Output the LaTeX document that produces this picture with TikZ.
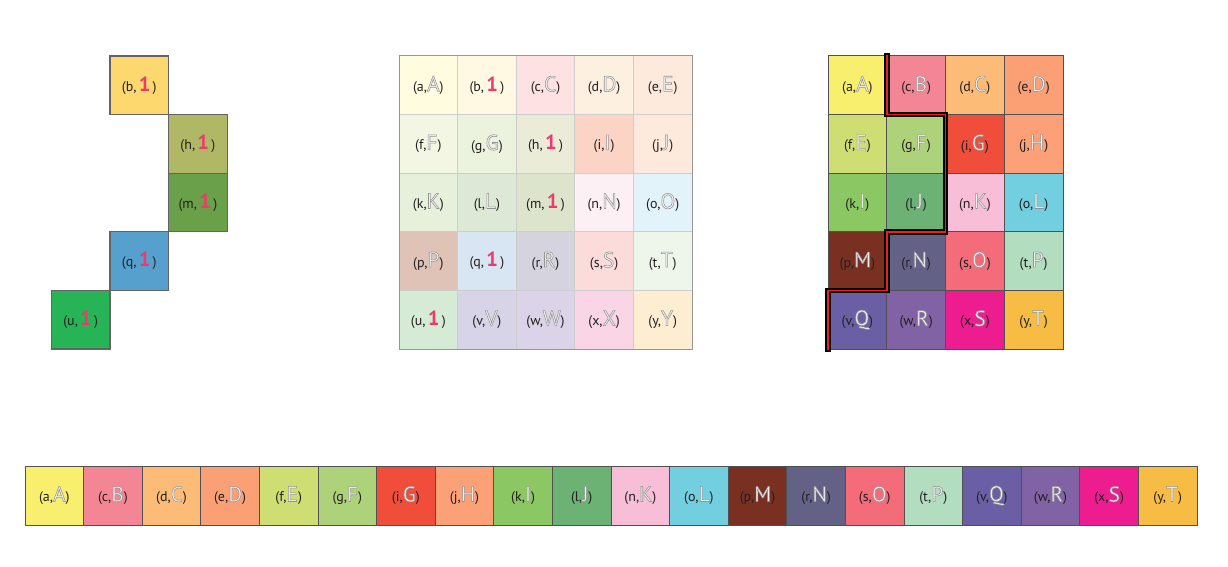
\documentclass[tikz,border=0pt]{standalone}
\usepackage{fontspec}
\setmainfont{PT Sans}
\definecolor{textdark}{HTML}{231F20}
\definecolor{pinkone}{HTML}{EC3A6D}
\definecolor{pathred}{HTML}{E8202A}
\definecolor{hollowfill}{HTML}{F2F2F2}
\newcommand\hl[1]{{\fontsize{21.5}{21.5}\selectfont\color{hollowfill}\special{pdf:literal direct 0.58 0.58 0.58 RG 0.55 w 2 Tr}#1\special{pdf:literal direct 0 Tr}}}
\newcommand\pk{\,{\fontsize{20.5}{20.5}\selectfont\bfseries\color{pinkone}1}\,}
\newcommand\lbl[2]{(#1,#2)}
\tikzset{
  cellbase/.style={minimum width=58.6pt, minimum height=58.6pt, inner sep=0pt, outer sep=0pt,
    anchor=center, font=\fontsize{14}{14}\selectfont, text=textdark, line width=1pt},
  leftcell/.style={cellbase, draw={rgb,255:red,100;green,100;blue,102}, line width=1.3pt},
  midcell/.style={cellbase, draw={rgb,255:red,205;green,205;blue,205}},
  rightcell/.style={cellbase, minimum width=58.75pt, draw={rgb,255:red,80;green,80;blue,82}},
  stripcell/.style={cellbase, minimum height=59pt, draw={rgb,255:red,80;green,80;blue,82}},
}
\begin{document}
\begin{tikzpicture}[x=1pt,y=-1pt]
\useasboundingbox (0,0) rectangle (1228,567);
% left group
\foreach \n/\cx/\cy/\c in {b/139.3/85.3/FDD86F, h/197.9/143.9/B0B865, m/197.9/202.5/6BA04B, q/139.3/261.1/55A0CD, u/80.7/319.7/26B457}{
  \definecolor{tmpc}{HTML}{\c}
  \node[leftcell, fill=tmpc] (L-\n) at (\cx,\cy) {\lbl{\n}{\pk}};
}
% middle grid
\foreach \row [count=\r] in {
  {a/\hl{A}/FFFCE0, b/\pk/FFF8E3, c/\hl{C}/FDE1E3, d/\hl{D}/FEF0E0, e/\hl{E}/FEE9DD},
  {f/\hl{F}/F3F6E3, g/\hl{G}/EBF3DF, h/\pk/EAECD8, i/\hl{I}/FCD4C6, j/\hl{J}/FEE9DD},
  {k/\hl{K}/E6F0DA, l/\hl{L}/DDE9D6, m/\pk/DCE4CC, n/\hl{N}/FDF0F4, o/\hl{O}/E2F3F9},
  {p/\hl{P}/DEC3B6, q/\pk/D8E6F3, r/\hl{R}/D5D3DE, s/\hl{S}/FCDCDA, t/\hl{T}/EEF6EC},
  {u/\pk/D6EBD6, v/\hl{V}/D8D4E8, w/\hl{W}/DBD4E8, x/\hl{X}/F9D5E5, y/\hl{Y}/FEEED1}}{
  \foreach \l/\u/\c [count=\k] in \row {
    \definecolor{tmpc}{HTML}{\c}
    \node[midcell, fill=tmpc] (M-\r-\k) at (399+29.3+58.6*\k-58.6, 56+29.3+58.6*\r-58.6) {\lbl{\l}{\u}};
  }
}
\draw[draw={rgb,255:red,150;green,150;blue,150}, line width=1pt] (M-1-1.north west) rectangle (M-5-5.south east);
% right grid
\foreach \row [count=\r] in {
  {a/A/F9EF6E, c/B/F48595, d/C/FDBB78, e/D/FB9F74},
  {f/E/CEDE72, g/F/AED27A, i/G/F04D3B, j/H/FBA077},
  {k/I/8BC763, l/J/6BB274, n/K/F8BED8, o/L/72CFE0},
  {p/M/7A3021, r/N/646186, s/O/F46B79, t/P/B3DDBF},
  {v/Q/6A5EA4, w/R/8162A5, x/S/ED1C8F, y/T/F7BC44}}{
  \foreach \l/\u/\c [count=\k] in \row {
    \definecolor{tmpc}{HTML}{\c}
    \node[rightcell, fill=tmpc] (R-\r-\k) at (828+29.375+58.75*\k-58.75, 56+29.3+58.6*\r-58.6) {\lbl{\l}{\hl{\u}}};
  }
}
% path
\draw[black, line width=5.5pt, line join=miter, line cap=butt]
  ([yshift=3pt]R-1-2.north west) -- (R-1-2.south west) -- (R-2-3.north west) -- (R-3-3.south west)
  -- (R-4-2.north west) -- (R-4-2.south west) -- (R-5-1.north west) -- ([yshift=-3pt]R-5-1.south west);
\draw[pathred, line width=1.8pt, line join=miter, line cap=butt]
  ([yshift=1pt]R-1-2.north west) -- (R-1-2.south west) -- (R-2-3.north west) -- (R-3-3.south west)
  -- (R-4-2.north west) -- (R-4-2.south west) -- (R-5-1.north west) -- ([yshift=-1pt]R-5-1.south west);
% bottom strip
\foreach \l/\u/\c [count=\k] in {a/A/F9EF6E, c/B/F48595, d/C/FDBB78, e/D/FB9F74, f/E/CEDE72, g/F/AED27A, i/G/F04D3B, j/H/FBA077, k/I/8BC763, l/J/6BB274, n/K/F8BED8, o/L/72CFE0, p/M/7A3021, r/N/646186, s/O/F46B79, t/P/B3DDBF, v/Q/6A5EA4, w/R/8162A5, x/S/ED1C8F, y/T/F7BC44}{
  \definecolor{tmpc}{HTML}{\c}
  \node[stripcell, fill=tmpc] (S-\k) at (25+29.3+58.6*\k-58.6, 466+29.5) {\lbl{\l}{\hl{\u}}};
}
\end{tikzpicture}
\end{document}
